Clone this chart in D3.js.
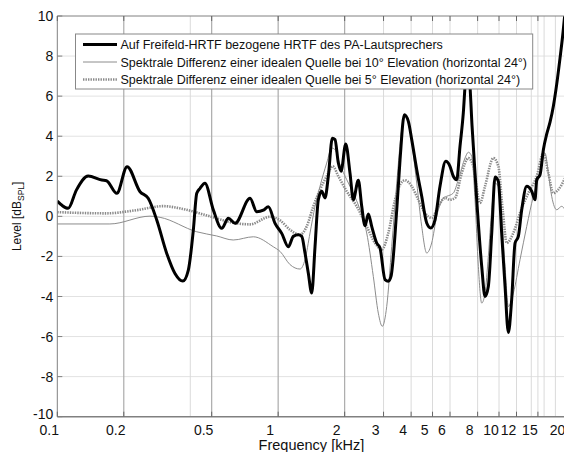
<!DOCTYPE html>
<html lang="de">
<head>
<meta charset="UTF-8">
<title>HRTF Level</title>
<style>
  body { margin: 0; background: #fff; }
  svg { display: block; font-family: "Liberation Sans", Arial, sans-serif; }
  .tick-label { font-size: 14px; fill: #111; }
  .legend-text { font-size: 12.5px; fill: #111; }
</style>
</head>
<body>
<script src="https://cdn.jsdelivr.net/npm/d3@7"></script>
<script>
// frequency [kHz], level [dB]
const refHrtf = [
  [0.1,0.76],[0.105,0.55],[0.112,0.4],[0.122,1.31],[0.138,2.01],[0.159,1.81],[0.167,1.78],
  [0.186,1.15],[0.207,2.48],[0.237,1.23],[0.258,0.9],[0.282,-0.18],[0.313,-1.85],[0.341,-2.85],
  [0.37,-3.23],[0.392,-2.68],[0.413,-0.68],[0.428,1.15],[0.443,1.4],[0.466,1.65],[0.509,0.31],
  [0.555,-0.6],[0.595,-0.1],[0.638,-0.35],[0.746,0.9],[0.8,0.23],[0.857,0.31],[0.903,0.48],
  [0.968,-0.35],[1.038,-0.85],[1.112,-1.52],[1.171,-1.0],[1.234,-0.92],[1.279,-1.0],[1.323,-1.83],
  [1.369,-2.83],[1.419,-3.83],[1.469,-1.5],[1.52,0.83],[1.575,1.25],[1.63,0.92],[1.687,2.0],
  [1.759,3.9],[1.809,3.83],[1.873,2.66],[1.926,2.25],[2.023,3.61],[2.115,2.16],[2.189,0.83],
  [2.307,1.8],[2.39,0.5],[2.473,-0.47],[2.56,0.12],[2.652,-0.5],[2.794,-1.33],[2.892,-1.58],
  [3.047,-3.16],[3.154,-3.24],[3.243,-3.0],[3.443,0.33],[3.564,2.83],[3.727,5.07],[3.886,4.74],
  [4.025,3.83],[4.241,2.33],[4.467,1.0],[4.706,-0.33],[4.906,-0.58],[5.131,-0.17],[5.405,1.5],
  [5.738,2.75],[5.999,2.5],[6.21,2.0],[6.434,1.83],[6.659,3.5],[6.892,5.16],[7.05,6.8],
  [7.2,7.6],[7.35,6.9],[7.55,4.5],[7.925,0.83],[8.35,-2.5],[8.643,-4.0],[8.946,-3.5],
  [9.269,-0.83],[9.592,1.96],[9.927,1.75],[10.28,-0.83],[10.65,-3.5],[11.02,-5.8],[11.41,-4.16],
  [11.82,-1.33],[12.23,-1.0],[12.67,0.33],[13.35,1.5],[14.06,1.25],[14.55,0.83],[14.82,1.83],
  [15.34,2.08],[15.88,3.33],[16.44,4.1],[17.02,4.7],[17.62,5.5],[18.25,6.6],[18.89,7.9],
  [19.5,9.2],[19.9,10.2]
];
const diff10 = [
  [0.1,-0.38],[0.173,-0.38],[0.263,0.01],[0.292,-0.05],[0.428,-0.77],[0.527,-0.98],[0.626,-1.18],
  [0.772,-1.02],[0.951,-1.52],[1.02,-1.75],[1.132,-2.41],[1.256,-2.63],[1.323,-2.16],[1.394,-0.83],
  [1.469,0.5],[1.547,1.5],[1.659,2.66],[1.748,3.41],[1.809,3.33],[1.906,2.58],[2.044,1.83],
  [2.189,1.16],[2.348,0.33],[2.517,-0.83],[2.697,-3.0],[2.841,-4.83],[2.962,-5.49],[3.101,-4.5],
  [3.267,-1.5],[3.443,1.66],[3.626,4.33],[3.753,5.07],[3.954,4.24],[4.241,1.66],[4.467,-0.5],
  [4.706,-1.83],[4.956,-1.33],[5.222,0],[5.594,0.92],[5.796,1.0],[6.21,1.16],[6.544,1.83],
  [7.015,2.91],[7.261,3.2],[7.523,3.0],[7.787,0.83],[8.06,-2.5],[8.35,-4.33],[8.643,-3.83],
  [8.946,-2.0],[9.269,0.33],[9.592,1.66],[9.927,1.5],[10.28,0],[10.65,-2.5],[11.02,-4.5],
  [11.61,-3.83],[12.45,-2.16],[13.35,-0.5],[14.3,1.0],[15.34,2.16],[16.16,3.16],[16.72,2.16],
  [17.32,1.0],[18.25,0.33],[19.22,0.5],[19.9,0.33]
];
const diff5 = [
  [0.1,0.21],[0.167,0.15],[0.229,0.31],[0.302,0.51],[0.359,0.4],[0.491,0.0],[0.626,-0.32],
  [0.746,-0.4],[0.919,-0.02],[1.02,-0.2],[1.132,-0.67],[1.256,-0.92],[1.347,-0.5],[1.443,0.5],
  [1.547,1.33],[1.659,2.0],[1.766,2.5],[1.873,2.0],[2.044,1.25],[2.268,0.5],[2.517,-0.5],
  [2.745,-1.33],[2.944,-1.66],[3.154,-0.83],[3.382,0.83],[3.564,1.58],[3.753,1.8],[4.025,1.5],
  [4.312,0.83],[4.623,0.17],[4.956,-0.08],[5.31,0.5],[5.7,0.92],[5.999,0.83],[6.323,0.92],
  [6.78,2.16],[7.261,2.91],[7.65,2.5],[8.204,0.67],[8.643,1.5],[9.423,2.91],[9.927,2.5],
  [10.39,0.33],[10.84,-1.33],[11.61,-0.83],[12.45,0.17],[13.57,1.16],[14.82,2.0],[15.88,3.16],
  [16.72,2.16],[17.62,1.16],[18.56,1.33],[19.9,1.9]
];

const xTicks = [0.1, 0.2, 0.5, 1, 2, 3, 4, 5, 6, 8, 10, 12, 15, 20];
const xTickLabels = ["0.1", "0.2", "0.5", "1", "2", "3", "4", "5", "6", "8", "10", "12", "15", "20"];
const xMajorGrid = [0.2, 0.5, 1, 2];
const xMinorGrid = [0.4, 3, 4, 5, 6, 8, 10, 12, 14, 15, 16, 18];
const yTicks = [-10, -8, -6, -4, -2, 0, 2, 4, 6, 8, 10];
const legendLabels = [
  "Auf Freifeld-HRTF bezogene HRTF des PA-Lautsprechers",
  "Spektrale Differenz einer idealen Quelle bei 10° Elevation (horizontal 24°)",
  "Spektrale Differenz einer idealen Quelle bei 5° Elevation (horizontal 24°)"
];

const width = 564, height = 452;
const plotLeft = 57.3, plotTop = 16, plotRight = 565.5, plotBottom = 416.7;

const svg = d3.select("body").append("svg")
  .attr("width", width)
  .attr("height", height);

const x = d3.scaleLog().domain([0.1, 20]).range([plotLeft, plotRight]);
const y = d3.scaleLinear().domain([-10, 10]).range([plotBottom, plotTop]);

svg.append("clipPath").attr("id", "plot-clip")
  .append("rect")
  .attr("x", plotLeft).attr("y", plotTop)
  .attr("width", plotRight - plotLeft).attr("height", plotBottom - plotTop);

// grid
svg.selectAll(".hgrid").data(yTicks.slice(1, -1)).enter().append("line")
  .attr("x1", plotLeft).attr("x2", width)
  .attr("y1", d => y(d)).attr("y2", d => y(d))
  .attr("stroke", "#e2e2e2").attr("stroke-width", 1);

svg.selectAll(".vgrid-minor").data(xMinorGrid).enter().append("line")
  .attr("x1", d => x(d)).attr("x2", d => x(d))
  .attr("y1", plotTop).attr("y2", plotBottom)
  .attr("stroke", "#dadada").attr("stroke-width", 1);

svg.selectAll(".vgrid-major").data(xMajorGrid).enter().append("line")
  .attr("x1", d => x(d)).attr("x2", d => x(d))
  .attr("y1", plotTop).attr("y2", plotBottom)
  .attr("stroke", "#ababab").attr("stroke-width", 1.2);

// curves
const line = d3.line()
  .x(d => x(d[0]))
  .y(d => y(d[1]))
  .curve(d3.curveMonotoneX);

const curves = svg.append("g").attr("clip-path", "url(#plot-clip)");

curves.append("path")
  .datum(diff10)
  .attr("d", line)
  .attr("fill", "none")
  .attr("stroke", "#8c8c8c")
  .attr("stroke-width", 1);

curves.append("path")
  .datum(diff5)
  .attr("d", line)
  .attr("fill", "none")
  .attr("stroke", "#8a8a8a")
  .attr("stroke-width", 2.6)
  .attr("stroke-dasharray", "1.4,1.1");

curves.append("path")
  .datum(refHrtf)
  .attr("d", line)
  .attr("fill", "none")
  .attr("stroke", "#000")
  .attr("stroke-width", 3)
  .attr("stroke-linejoin", "round");

// axes box
const axisColor = "#808080";
svg.append("line").attr("x1", plotLeft).attr("x2", plotLeft).attr("y1", plotTop).attr("y2", plotBottom)
  .attr("stroke", axisColor);
svg.append("line").attr("x1", plotLeft).attr("x2", width).attr("y1", plotBottom).attr("y2", plotBottom)
  .attr("stroke", axisColor).attr("stroke-width", 1.5);
svg.append("line").attr("x1", plotLeft).attr("x2", width).attr("y1", plotTop).attr("y2", plotTop)
  .attr("stroke", axisColor);

// ticks
svg.selectAll(".ytick").data(yTicks).enter().append("line")
  .attr("x1", plotLeft).attr("x2", plotLeft + 5)
  .attr("y1", d => y(d)).attr("y2", d => y(d))
  .attr("stroke", axisColor);

svg.selectAll(".xtick-b").data(xTicks).enter().append("line")
  .attr("x1", d => x(d)).attr("x2", d => x(d))
  .attr("y1", plotBottom).attr("y2", plotBottom - 5)
  .attr("stroke", "#666");

svg.selectAll(".xtick-t").data(xTicks).enter().append("line")
  .attr("x1", d => x(d)).attr("x2", d => x(d))
  .attr("y1", plotTop).attr("y2", plotTop + 5)
  .attr("stroke", "#666");

svg.selectAll(".ylabel").data(yTicks).enter().append("text")
  .attr("class", "tick-label")
  .attr("x", plotLeft - 4)
  .attr("y", d => d === -10 ? y(d) - 3 : y(d))
  .attr("dy", "0.36em")
  .attr("text-anchor", "end")
  .text(d => d);

svg.selectAll(".xlabel").data(xTicks).enter().append("text")
  .attr("class", "tick-label")
  .attr("x", d => x(d) - 8)
  .attr("y", 434.5)
  .attr("text-anchor", "middle")
  .text((d, i) => xTickLabels[i]);

// axis titles
svg.append("text")
  .attr("x", (plotLeft + plotRight) / 2)
  .attr("y", 449.5)
  .attr("text-anchor", "middle")
  .style("font-size", "14.5px")
  .attr("fill", "#111")
  .text("Frequency [kHz]");

const yTitle = svg.append("text")
  .attr("transform", `translate(21,${(plotTop + plotBottom) / 2}) rotate(-90)`)
  .attr("text-anchor", "middle")
  .style("font-size", "12px")
  .attr("fill", "#111");
yTitle.append("tspan").text("Level [dB");
yTitle.append("tspan").attr("dy", 3).style("font-size", "8.5px").text("SPL");
yTitle.append("tspan").attr("dy", -3).text("]");

// legend
const legend = svg.append("g");
legend.append("rect")
  .attr("x", 75.5).attr("y", 34)
  .attr("width", 532.7 - 75.5).attr("height", 55)
  .attr("fill", "#fff")
  .attr("stroke", "#888")
  .attr("stroke-width", 1);

const legendStyles = [
  { stroke: "#000", width: 3, dash: null },
  { stroke: "#8c8c8c", width: 1, dash: null },
  { stroke: "#8a8a8a", width: 2.6, dash: "1.4,1.1" }
];
const rowY = [44.5, 62, 79.5];

legendLabels.forEach((label, i) => {
  legend.append("line")
    .attr("x1", 83).attr("x2", 117)
    .attr("y1", rowY[i]).attr("y2", rowY[i])
    .attr("stroke", legendStyles[i].stroke)
    .attr("stroke-width", legendStyles[i].width)
    .attr("stroke-dasharray", legendStyles[i].dash);
  legend.append("text")
    .attr("class", "legend-text")
    .attr("x", 120.5)
    .attr("y", rowY[i])
    .attr("dy", "0.36em")
    .text(label);
});
</script>
</body>
</html>
